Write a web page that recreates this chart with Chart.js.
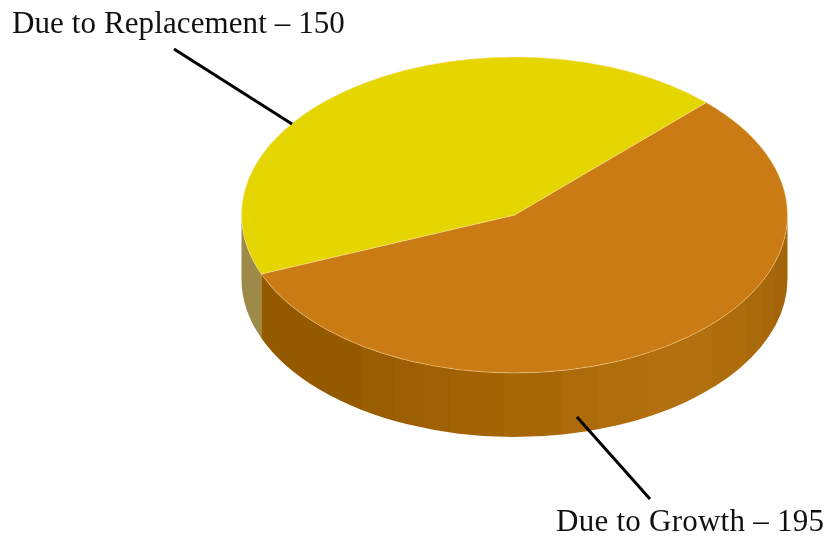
<!DOCTYPE html>
<html>
<head>
<meta charset="utf-8">
<title>Due to Growth and Replacement</title>
<script src="https://cdn.jsdelivr.net/npm/chart.js@4"></script>
<style>
  html, body { margin: 0; padding: 0; background: #fff; overflow: hidden; }
  #wrap { position: relative; width: 827px; height: 537px; }
  canvas { position: absolute; left: 0; top: 0; }
  .lbl {
    position: absolute; white-space: nowrap; color: #111;
    font-family: "Liberation Serif", serif; font-size: 31px; line-height: 36px;
  }
</style>
</head>
<body>
<div id="wrap">
  <canvas id="myChart" width="827" height="537"></canvas>
  <div class="lbl" id="lbl-replacement" style="left:12px; top:5px; letter-spacing:0.1px;"></div>
  <div class="lbl" id="lbl-growth" style="left:556px; top:503px; letter-spacing:0.25px;"></div>
</div>
<script>
const categories = ['Due to Growth', 'Due to Replacement'];
const values = [195, 150];
const topColors = ['#ca7b14', '#e5d500'];

// the pie is drawn as a circle by Chart.js, then squashed to an ellipse
const RX = 273;
const RY = 158;
const CY = 215;
const DEPTH = 64;

// vertical shade bands on the rim: right edge x, colour
const orangeBands = [
  [362, '#955a00'], [394, '#995d02'], [423, '#9c5f03'], [450, '#9f6104'],
  [477, '#a26305'], [504, '#a46405'], [562, '#a86707'], [598, '#ae6b0b'],
  [648, '#b06d0c'], [712, '#b3700e'], [745, '#ae6c0c'], [762, '#aa690b'],
  [775, '#a7670a'], [790, '#a4650a']
];
const yellowBands = [[264, '#9e8a48']];

document.getElementById('lbl-growth').textContent = categories[0] + ' \u2013 ' + values[0];
document.getElementById('lbl-replacement').textContent = categories[1] + ' \u2013 ' + values[1];

function drawWall(ctx, arc, bands) {
  const from = Math.max(arc.startAngle, 0);
  const to = Math.min(arc.endAngle, Math.PI);
  if (to <= from) return;
  ctx.save();
  ctx.beginPath();
  ctx.ellipse(arc.x, CY, RX, RY, 0, from, to);
  ctx.ellipse(arc.x, CY + DEPTH, RX, RY, 0, to, from, true);
  ctx.closePath();
  ctx.clip();
  let left = arc.x - RX - 2;
  bands.forEach(function(band) {
    ctx.fillStyle = band[1];
    ctx.fillRect(left, CY, band[0] - left, RY + DEPTH + 2);
    left = band[0];
  });
  ctx.restore();
}

function drawLeader(ctx, x1, y1, x2, y2) {
  ctx.beginPath();
  ctx.moveTo(x1, y1);
  ctx.lineTo(x2, y2);
  ctx.stroke();
}

const pie3d = {
  id: 'pie3d',
  beforeDatasetsDraw(chart) {
    const ctx = chart.ctx;
    const arcs = chart.getDatasetMeta(0).data;
    drawWall(ctx, arcs[0], orangeBands);
    drawWall(ctx, arcs[1], yellowBands);
    ctx.save();
    ctx.translate(0, CY);
    ctx.scale(1, RY / RX);
    ctx.translate(0, -arcs[0].y);
  },
  afterDatasetsDraw(chart) {
    const ctx = chart.ctx;
    ctx.restore();
    ctx.save();
    ctx.strokeStyle = '#000';
    ctx.lineWidth = 3;
    drawLeader(ctx, 174, 49, 292, 124);
    drawLeader(ctx, 577, 417, 650, 499);
    ctx.restore();
  }
};

new Chart(document.getElementById('myChart'), {
  type: 'pie',
  data: {
    labels: categories,
    datasets: [{
      data: values,
      backgroundColor: topColors,
      borderColor: 'rgba(255, 225, 170, 0.55)',
      borderWidth: 1,
      radius: RX,
      rotation: 44.6,
      clip: false
    }]
  },
  options: {
    responsive: false,
    animation: false,
    layout: { padding: { left: 202, right: 0, top: 0, bottom: 107 } },
    plugins: { legend: { display: false }, tooltip: { enabled: false } }
  },
  plugins: [pie3d]
});
</script>
</body>
</html>
